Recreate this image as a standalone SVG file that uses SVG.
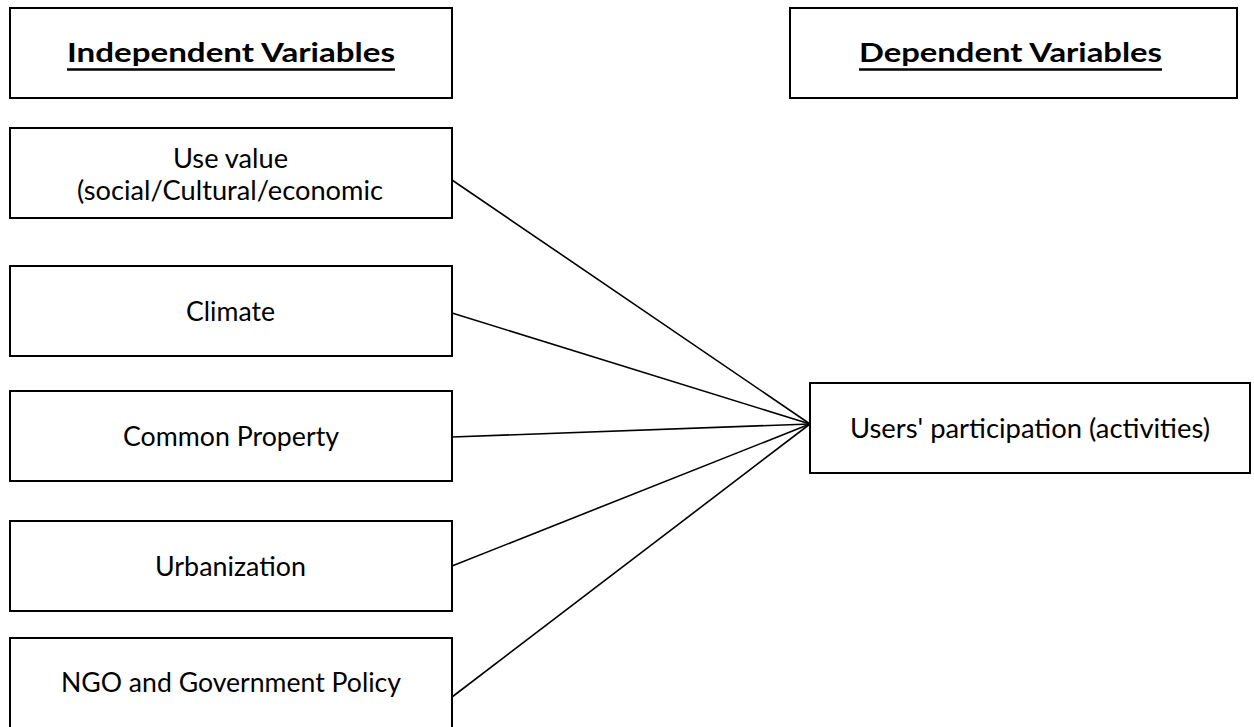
<svg xmlns="http://www.w3.org/2000/svg" width="1254" height="727" viewBox="0 0 1254 727">
<style>
.box{fill:#fff;stroke:#000;stroke-width:2}
.t{font-family:Lato,"Open Sans","Liberation Sans",sans-serif;font-size:27px;fill:#000;text-anchor:middle}
.h{font-weight:bold}
.conn line{stroke:#000;stroke-width:1.6}
.ul{stroke:#000;stroke-width:2.5}
</style>
<rect width="1254" height="727" fill="#fff"/>
<g class="conn" id="connectors">
<line x1="452" y1="180" x2="810" y2="424"/>
<line x1="452" y1="313" x2="810" y2="424"/>
<line x1="452" y1="437" x2="810" y2="424"/>
<line x1="452" y1="566" x2="810" y2="424"/>
<line x1="452" y1="697" x2="810" y2="424"/>
</g>
<g id="independent-header">
<rect class="box" x="10" y="8" width="442" height="90"/>
<text class="t h" x="231" y="62" textLength="328" lengthAdjust="spacingAndGlyphs">Independent Variables</text>
<line class="ul" x1="67" y1="69.5" x2="395" y2="69.5"/>
</g>
<g id="dependent-header">
<rect class="box" x="790" y="8" width="447" height="90"/>
<text class="t h" x="1010.5" y="62" textLength="303" lengthAdjust="spacingAndGlyphs">Dependent Variables</text>
<line class="ul" x1="859" y1="69.5" x2="1162" y2="69.5"/>
</g>
<g id="use-value">
<rect class="box" x="10" y="128" width="442" height="90"/>
<text class="t" x="230.5" y="168" textLength="115" lengthAdjust="spacingAndGlyphs">Use value</text>
<text class="t" x="230" y="200" textLength="306" lengthAdjust="spacingAndGlyphs">(social/Cultural/economic</text>
</g>
<g id="climate">
<rect class="box" x="10" y="266" width="442" height="90"/>
<text class="t" x="230.5" y="321" textLength="89" lengthAdjust="spacingAndGlyphs">Climate</text>
</g>
<g id="common-property">
<rect class="box" x="10" y="391" width="442" height="90"/>
<text class="t" x="231" y="446" textLength="216" lengthAdjust="spacingAndGlyphs">Common Property</text>
</g>
<g id="urbanization">
<rect class="box" x="10" y="521" width="442" height="90"/>
<text class="t" x="230.5" y="576" textLength="151" lengthAdjust="spacingAndGlyphs">Urbanization</text>
</g>
<g id="ngo-policy">
<rect class="box" x="10" y="638" width="442" height="92"/>
<text class="t" x="231" y="692" textLength="340" lengthAdjust="spacingAndGlyphs">NGO and Government Policy</text>
</g>
<g id="users-participation">
<rect class="box" x="810" y="383" width="440" height="90"/>
<text class="t" x="1030" y="438" textLength="360" lengthAdjust="spacingAndGlyphs">Users' participation (activities)</text>
</g>
</svg>
